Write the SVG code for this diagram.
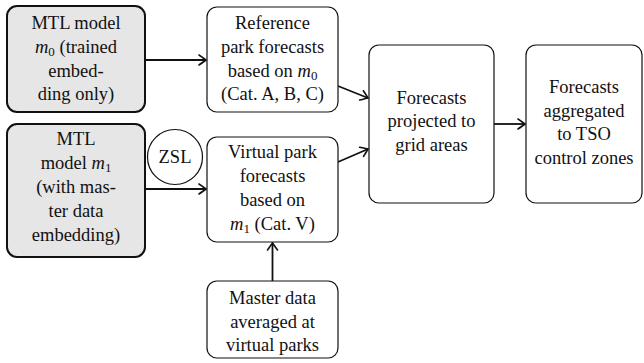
<svg xmlns="http://www.w3.org/2000/svg" width="644" height="363" viewBox="0 0 644 363">
<defs>
<style>
text{font-family:"Liberation Serif","Times New Roman",serif;font-size:18.5px;fill:#111;text-anchor:middle}
.gray{fill:#e6e6e6;stroke:#111;stroke-width:2}
.white{fill:#fff;stroke:#111;stroke-width:1.2}
.conn{stroke:#111;stroke-width:1.8;fill:none;marker-end:url(#arr)}
.m{font-style:italic}
.s{font-size:13px}
</style>
<marker id="arr" markerUnits="userSpaceOnUse" viewBox="-10 -7 12 14" refX="0" refY="0" markerWidth="12" markerHeight="14" orient="auto">
<path d="M-7,-5 Q-2,-1.5 0,0 Q-2,1.5 -7,5" fill="none" stroke="#111" stroke-width="1.6" stroke-linecap="round"/>
</marker>
</defs>
<g id="connectors">
<path class="conn" d="M145,60 L206,60"/>
<path class="conn" d="M145,189 L206,189"/>
<path class="conn" d="M338,86 L368,98"/>
<path class="conn" d="M338,162 L368,149"/>
<path class="conn" d="M494,124 L525,124"/>
<path class="conn" d="M272.5,281 L272.5,243"/>
</g>
<g id="mtl0">
<rect class="gray" x="7" y="6" width="138" height="106" rx="10"/>
<text x="76" y="29">MTL model</text>
<text x="76" y="53"><tspan class="m">m</tspan><tspan class="s" dy="3">0</tspan><tspan dy="-3"> (trained</tspan></text>
<text x="76" y="77">embed-</text>
<text x="76" y="100">ding only)</text>
</g>
<g id="mtl1">
<rect class="gray" x="7" y="124" width="138" height="133" rx="10"/>
<text x="76" y="145">MTL</text>
<text x="76" y="169">model <tspan class="m">m</tspan><tspan class="s" dy="3">1</tspan></text>
<text x="76" y="193">(with mas-</text>
<text x="76" y="217">ter data</text>
<text x="76" y="241">embedding)</text>
</g>
<g id="zsl">
<circle cx="175" cy="157" r="27.5" fill="#fff" stroke="#111" stroke-width="1.2"/>
<text x="175" y="163">ZSL</text>
</g>
<g id="ref">
<rect class="white" x="207" y="7" width="131" height="105" rx="10"/>
<text x="272.5" y="29">Reference</text>
<text x="272.5" y="53">park forecasts</text>
<text x="272.5" y="77">based on <tspan class="m">m</tspan><tspan class="s" dy="3">0</tspan></text>
<text x="272.5" y="100">(Cat. A, B, C)</text>
</g>
<g id="virtual">
<rect class="white" x="207" y="137" width="131" height="105" rx="10"/>
<text x="272.5" y="158">Virtual park</text>
<text x="272.5" y="182">forecasts</text>
<text x="272.5" y="206">based on</text>
<text x="272.5" y="230"><tspan class="m">m</tspan><tspan class="s" dy="3">1</tspan><tspan dy="-3"> (Cat. V)</tspan></text>
</g>
<g id="master">
<rect class="white" x="207" y="281" width="131" height="77" rx="10"/>
<text x="272.5" y="304">Master data</text>
<text x="272.5" y="328">averaged at</text>
<text x="272.5" y="351">virtual parks</text>
</g>
<g id="projected">
<rect class="white" x="369" y="45" width="125" height="158" rx="10"/>
<text x="431.5" y="104">Forecasts</text>
<text x="431.5" y="127">projected to</text>
<text x="431.5" y="151">grid areas</text>
</g>
<g id="aggregated">
<rect class="white" x="526" y="45" width="116" height="158" rx="10"/>
<text x="584" y="93">Forecasts</text>
<text x="584" y="117">aggregated</text>
<text x="584" y="140">to TSO</text>
<text x="584" y="164">control zones</text>
</g>
</svg>
